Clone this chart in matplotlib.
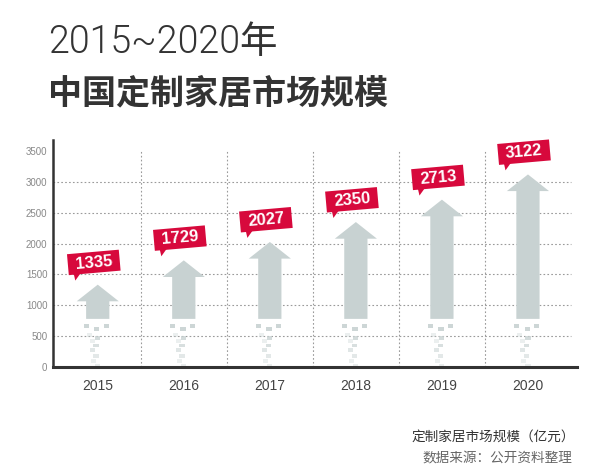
import matplotlib
matplotlib.use("Agg")
import matplotlib.pyplot as plt
import matplotlib.transforms as mtransforms
from matplotlib.patches import Polygon, Rectangle

plt.rcParams['font.family'] = ['Noto Sans CJK SC', 'DejaVu Sans']

years = ["2015", "2016", "2017", "2018", "2019", "2020"]
values = [1335, 1729, 2027, 2350, 2713, 3122]
y_ticks = [0, 500, 1000, 1500, 2000, 2500, 3000, 3500]

RED = "#D7093C"
ARROW = "#C8D2D2"
DARK = "#333333"

fig = plt.figure(figsize=(6.0, 4.76), dpi=100)
ax = fig.add_axes([53 / 600, 1 - 367 / 476, (577 - 53) / 600, (367 - 140) / 476])
ax.set_xlim(-0.52, 5.57)
ax.set_ylim(0, 3680)

# grid
for y in y_ticks[1:-1]:
    ax.plot([-0.52, 5.5], [y, y], color="#9a9a9a", lw=0.8, ls=(0, (1.5, 2)), zorder=1)
for i in range(len(years) - 1):
    ax.plot([i + 0.5, i + 0.5], [0, 3500], color="#9a9a9a", lw=0.8, ls=(0, (1.5, 2)), zorder=1)

# arrows
shaft_w, head_w, head_h, base = 0.27, 0.49, 270, 780
trail = [(-0.13, 665, 0.9), (-0.01, 620, 0.9), (0.10, 665, 0.9),
         (-0.10, 520, 0.35), (0.00, 470, 0.8), (-0.06, 420, 0.35),
         (-0.02, 350, 0.7), (-0.06, 270, 0.55), (-0.02, 180, 0.5),
         (-0.05, 100, 0.35), (0.00, 20, 0.4)]
for i, v in enumerate(values):
    pts = [(i - shaft_w / 2, base), (i + shaft_w / 2, base),
           (i + shaft_w / 2, v - head_h), (i + head_w / 2, v - head_h),
           (i, v), (i - head_w / 2, v - head_h), (i - shaft_w / 2, v - head_h)]
    ax.add_patch(Polygon(pts, closed=True, facecolor=ARROW, edgecolor="none", zorder=2))
    for dx, y, a in trail:
        ax.add_patch(Rectangle((i + dx - 0.03, y - 30), 0.06, 60,
                               facecolor=ARROW, alpha=a, edgecolor="none", zorder=2))

    # red value label with pointer
    tr = mtransforms.Affine2D().rotate_deg(5) + mtransforms.ScaledTranslation(i, v, ax.transData)
    box = [(-28, 12), (24, 12), (24, 33), (-28, 33)]
    ax.add_patch(Polygon(box, closed=True, facecolor=RED, edgecolor="none",
                         transform=tr, zorder=4, clip_on=False))
    ax.add_patch(Polygon([(-23, 13), (-16, 13), (-22, 6)], closed=True, facecolor=RED,
                         edgecolor="none", transform=tr, zorder=4, clip_on=False))
    ax.text(-2, 22.5, str(v), transform=tr, rotation=5, rotation_mode="anchor",
            ha="center", va="center", color="white", fontsize=12, fontweight="bold",
            family=["Liberation Sans", "DejaVu Sans"], zorder=5)

ax.set_xticks(range(len(years)))
ax.set_xticklabels(years, fontsize=10, color="#444444", family=["Liberation Sans"])
ax.set_yticks(y_ticks)
ax.set_yticklabels([str(t) for t in y_ticks], fontsize=7, color="#888888",
                   family=["Liberation Sans"])
ax.tick_params(axis="both", length=0)
ax.tick_params(axis="x", pad=8.5)
ax.tick_params(axis="y", pad=4)
for s in ["top", "right"]:
    ax.spines[s].set_visible(False)
ax.spines["left"].set_color(DARK)
ax.spines["left"].set_linewidth(1.8)
ax.spines["bottom"].set_color(DARK)
ax.spines["bottom"].set_linewidth(2.2)

# titles
fig.text(48 / 600, 1 - 42 / 476, "2015~2020年", fontsize=27, fontweight=300,
         color=DARK, va="center", ha="left", family=["Roboto", "Noto Sans CJK SC"])
fig.text(48 / 600, 1 - 93 / 476, "中国定制家居市场规模", fontsize=24.5, fontweight="bold",
         color=DARK, va="center", ha="left")

# footer
fig.text(575 / 600, 1 - 437 / 476, "定制家居市场规模（亿元）", fontsize=9.8,
         color=DARK, ha="right", va="center")
fig.text(572 / 600, 1 - 458 / 476, "数据来源：公开资料整理", fontsize=9.8,
         color="#666666", ha="right", va="center")

fig.savefig("out.png", dpi=100, facecolor="white")
